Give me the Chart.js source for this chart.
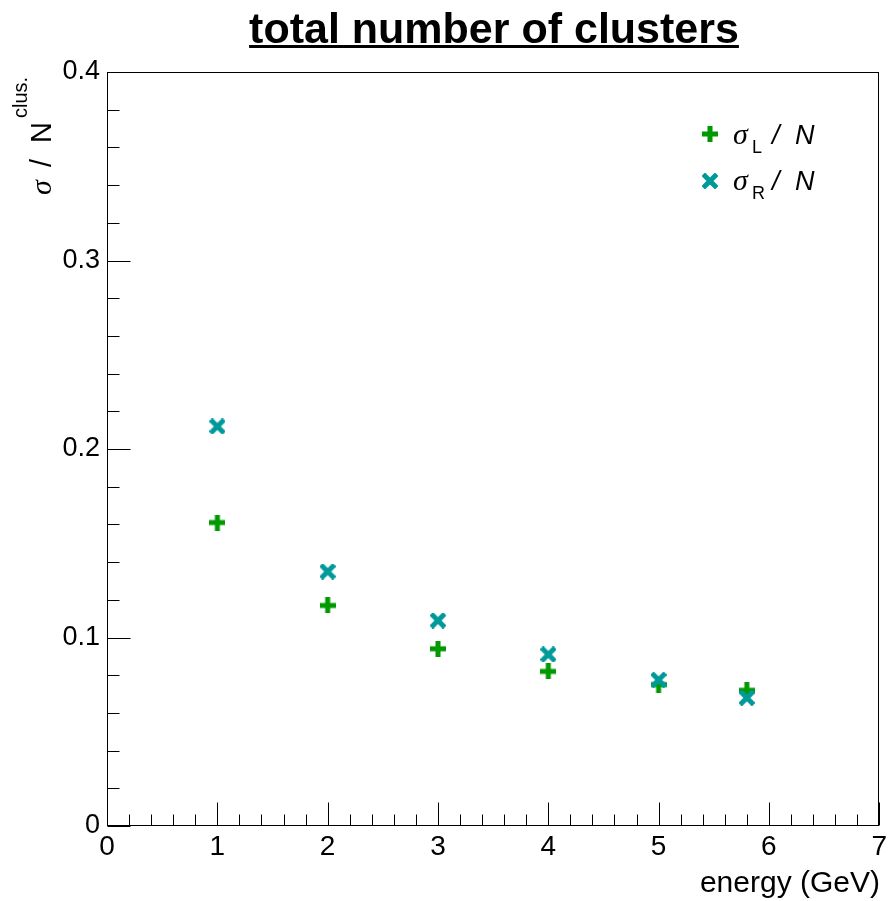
<!DOCTYPE html>
<html>
<head>
<meta charset="utf-8">
<script src="https://cdn.jsdelivr.net/npm/chart.js@4"></script>
<style>
  html, body { margin: 0; padding: 0; background: #ffffff; }
  #wrap { width: 891px; height: 901px; position: relative; }
</style>
</head>
<body>
<div id="wrap"><canvas id="c"></canvas></div>
<script>
// Energy points (GeV) and the two width-per-cluster ratios
const energies = [1, 2, 3, 4, 5, 5.8];
const sigmaL = [0.161, 0.117, 0.094, 0.082, 0.075, 0.072];
const sigmaR = [0.212, 0.135, 0.109, 0.091, 0.0775, 0.068];

const xTicks = [0, 1, 2, 3, 4, 5, 6, 7];
const yTicks = [0, 0.1, 0.2, 0.3, 0.4];

const GREEN = '#009a00';
const TEAL = '#009999';
const SANS = '"Liberation Sans", Arial, Helvetica, sans-serif';
const SERIF = '"Liberation Serif", "Times New Roman", serif';

// Filled plus marker
function plusMarker(color) {
  const s = 16, t = 5, c = document.createElement('canvas');
  c.width = s; c.height = s;
  const g = c.getContext('2d');
  g.fillStyle = color;
  g.fillRect(0, (s - t) / 2, s, t);
  g.fillRect((s - t) / 2, 0, t, s);
  return c;
}
// Filled diagonal cross marker
function xMarker(color) {
  const s = 16, c = document.createElement('canvas');
  c.width = s; c.height = s;
  const g = c.getContext('2d');
  g.strokeStyle = color;
  g.lineWidth = 5;
  g.lineCap = 'square';
  g.beginPath();
  g.moveTo(3, 3); g.lineTo(s - 3, s - 3);
  g.moveTo(s - 3, 3); g.lineTo(3, s - 3);
  g.stroke();
  return c;
}

const plusImg = plusMarker(GREEN);
const crossImg = xMarker(TEAL);

// Frame, inward ticks, title, axis titles and legend
const decor = {
  id: 'decor',
  afterDraw(chart) {
    const ctx = chart.ctx;
    const a = chart.chartArea;
    const xs = chart.scales.x, ys = chart.scales.y;
    ctx.save();
    ctx.strokeStyle = '#000';
    ctx.lineWidth = 1;
    const L = Math.round(a.left) + 0.5, R = Math.round(a.right) - 0.5;
    const T = Math.round(a.top) + 0.5, B = Math.round(a.bottom) - 0.5;
    ctx.strokeRect(L, T, R - L, B - T);

    ctx.beginPath();
    for (let i = 0; i <= 20; i++) {
      const v = i * 0.02;
      const py = Math.round(ys.getPixelForValue(v)) + 0.5;
      const len = (i % 5 === 0) ? 23 : 12;
      ctx.moveTo(L, py); ctx.lineTo(L + len, py);
    }
    for (let i = 0; i <= 35; i++) {
      const v = i * 0.2;
      const px = Math.round(xs.getPixelForValue(v)) + 0.5;
      const len = (i % 5 === 0) ? 23 : 11;
      ctx.moveTo(px, B); ctx.lineTo(px, B - len);
    }
    ctx.stroke();

    // Title with underline
    ctx.fillStyle = '#000';
    ctx.font = 'bold 43px ' + SANS;
    ctx.textAlign = 'center';
    ctx.textBaseline = 'alphabetic';
    const title = 'total number of clusters';
    const tw = ctx.measureText(title).width;
    const tx = 494;
    ctx.fillText(title, tx, 43);
    ctx.fillRect(tx - tw / 2, 45, tw, 3);

    // x axis title
    ctx.font = '30px ' + SANS;
    ctx.textAlign = 'right';
    ctx.fillText('energy (GeV)', 880, 892);

    // y axis title, rotated
    ctx.save();
    ctx.translate(51, 195);
    ctx.rotate(-Math.PI / 2);
    ctx.textAlign = 'left';
    ctx.font = 'italic 30px ' + SERIF;
    ctx.fillText('σ', 0, 0);
    ctx.font = '29px ' + SANS;
    ctx.fillText('/', 28, 0);
    ctx.fillText('N', 52, 0);
    ctx.font = '20px ' + SANS;
    ctx.fillText('clus.', 77, -24);
    ctx.restore();

    // Legend
    const rows = [
      { img: plusImg, sub: 'L', y: 134, base: 144 },
      { img: crossImg, sub: 'R', y: 181, base: 190 }
    ];
    ctx.textAlign = 'left';
    rows.forEach(r => {
      ctx.drawImage(r.img, 710 - 8, r.y - 8);
      ctx.font = 'italic 30px ' + SERIF;
      ctx.fillText('σ', 733, r.base);
      ctx.font = '18px ' + SANS;
      ctx.fillText(r.sub, 752, r.base + 9);
      ctx.font = 'italic 27px ' + SANS;
      ctx.fillText('/', 772, r.base);
      ctx.fillText('N', 795, r.base);
    });
    ctx.restore();
  }
};

const cfg = {
  type: 'scatter',
  data: {
    datasets: [
      {
        label: 'σL / N',
        data: energies.map((e, i) => ({ x: e, y: sigmaL[i] })),
        pointStyle: plusImg,
        pointRadius: 8,
        order: 2
      },
      {
        label: 'σR / N',
        data: energies.map((e, i) => ({ x: e, y: sigmaR[i] })),
        pointStyle: crossImg,
        pointRadius: 8,
        order: 1
      }
    ]
  },
  options: {
    responsive: true,
    maintainAspectRatio: false,
    animation: false,
    layout: { padding: { top: 72, right: 10, left: 0, bottom: 0 } },
    plugins: {
      legend: { display: false },
      tooltip: { enabled: false },
      title: { display: false }
    },
    scales: {
      x: {
        type: 'linear',
        position: 'bottom',
        min: 0, max: 7,
        afterBuildTicks: s => { s.ticks = xTicks.map(v => ({ value: v })); },
        afterFit: s => { s.height = 75; },
        grid: { display: false, drawTicks: false },
        border: { display: false },
        ticks: {
          padding: 4,
          color: '#000',
          font: { family: SANS, size: 28 },
          maxRotation: 0,
          autoSkip: false,
          callback: v => String(v)
        }
      },
      y: {
        type: 'linear',
        position: 'left',
        min: 0, max: 0.4,
        afterBuildTicks: s => { s.ticks = yTicks.map(v => ({ value: v })); },
        afterFit: s => { s.width = 107; },
        grid: { display: false, drawTicks: false },
        border: { display: false },
        ticks: {
          padding: 7,
          color: '#000',
          font: { family: SANS, size: 27 },
          autoSkip: false,
          callback: v => (v === 0 ? '0' : v.toFixed(1))
        }
      }
    }
  },
  plugins: [decor]
};

new Chart(document.getElementById('c'), cfg);
</script>
</body>
</html>
